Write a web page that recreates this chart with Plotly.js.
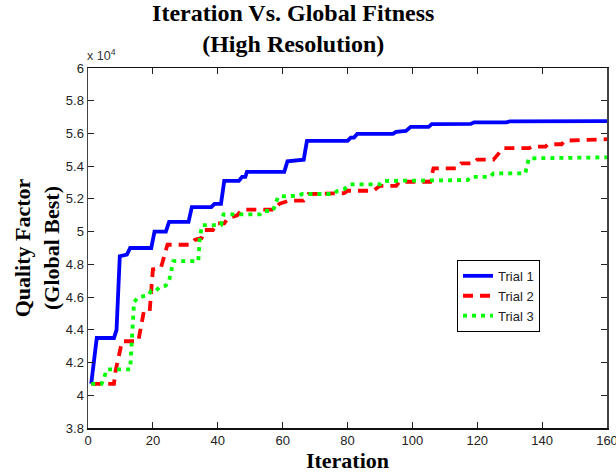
<!DOCTYPE html>
<html>
<head>
<meta charset="utf-8">
<script src="https://cdn.plot.ly/plotly-3.0.1.min.js"></script>
<style>html,body{margin:0;padding:0;background:#fff;}#chart{width:616px;height:473px;}</style>
</head>
<body>
<div id="chart"></div>
<script>
// Values are in units of 10^4 (as labelled on the chart)
const trial1X = [1,2.7,8,8.8,9.8,12,13,19.5,20.5,24,25,31,32,38,39,41,42,46.5,47.5,48.5,49,60.5,61.5,66.5,67.5,80,81,82,83,94,95,98,99.5,105,106,118,119,129,130,160];
const trial1Y = [4.07,4.35,4.35,4.40,4.85,4.86,4.90,4.90,5.00,5.00,5.06,5.06,5.15,5.15,5.17,5.17,5.31,5.31,5.335,5.335,5.365,5.365,5.43,5.44,5.555,5.555,5.575,5.575,5.597,5.597,5.61,5.615,5.64,5.64,5.657,5.658,5.668,5.668,5.674,5.675];

const trial2X = [1,8,8.5,9.5,10.5,15.5,16.5,17.2,19,20,22.5,24.5,31.5,33,35,36,38.5,39.7,42,43,46,47.5,57.5,59,62,66.5,68,79,80,88,90,95,96,105.5,106.5,113.8,115,119,120,125,128,136,137,141,142,146,147,160];
const trial2Y = [4.07,4.07,4.15,4.24,4.33,4.33,4.42,4.51,4.51,4.77,4.78,4.92,4.92,4.95,4.96,5.01,5.01,5.05,5.05,5.08,5.10,5.135,5.135,5.17,5.19,5.19,5.23,5.235,5.25,5.25,5.28,5.28,5.305,5.305,5.387,5.387,5.417,5.417,5.44,5.44,5.51,5.51,5.52,5.52,5.534,5.534,5.556,5.565];

const trial3X = [1,4.2,5,5.8,13,13.6,14.2,15.5,18.6,19.5,21,22,24,25,26.3,34,34.5,35.2,41,41.8,53,54,57,58.6,65,66,75.6,77,79,80.9,90,91,117,118,124,125,134.8,135.9,160];
const trial3Y = [4.07,4.07,4.11,4.158,4.158,4.40,4.57,4.60,4.61,4.64,4.64,4.66,4.67,4.70,4.82,4.82,4.97,5.04,5.04,5.106,5.106,5.126,5.126,5.214,5.22,5.23,5.23,5.25,5.26,5.289,5.289,5.31,5.315,5.335,5.335,5.356,5.356,5.448,5.454];

const seriesNames = ['Trial 1','Trial 2','Trial 3'];
const xTicks = [0,20,40,60,80,100,120,140,160];

const serif = '"Liberation Serif", "Times New Roman", serif';
const sans = '"Liberation Sans", Arial, sans-serif';

const traces = [
  {x: trial1X, y: trial1Y, name: seriesNames[0], mode: 'lines',
   line: {color: '#0000ff', width: 3.8}},
  {x: trial2X, y: trial2Y, name: seriesNames[1], mode: 'lines',
   line: {color: '#ff0000', width: 3.8, dash: '10px,7px'}},
  {x: trial3X, y: trial3Y, name: seriesNames[2], mode: 'lines',
   line: {color: '#00ff00', width: 3.8, dash: '4px,5px'}}
];

const layout = {
  width: 616, height: 473,
  margin: {l: 88, r: 9, t: 68, b: 45},
  paper_bgcolor: '#fff', plot_bgcolor: '#fff',
  title: {
    text: 'Iteration Vs. Global Fitness<br>(High Resolution)',
    font: {family: serif, size: 24, color: '#000', weight: 'bold'},
    xref: 'container', x: 0.476, xanchor: 'center',
    yref: 'container', y: 0.955, yanchor: 'top'
  },
  xaxis: {
    range: [0, 160], tickvals: xTicks, ticklabeloverflow: 'allow',
    ticks: 'inside', ticklen: 6, tickcolor: '#222', mirror: 'ticks',
    showline: true, linecolor: '#111', linewidth: 1.5,
    showgrid: false, zeroline: false,
    tickfont: {family: sans, size: 13, color: '#222'},
    title: {text: 'Iteration',
            font: {family: serif, size: 22, color: '#000', weight: 'bold'}}
  },
  yaxis: {
    range: [3.8, 6], dtick: 0.2, tick0: 3.8,
    ticks: 'inside', ticklen: 6, tickcolor: '#222', mirror: 'ticks',
    showline: true, linecolor: '#444', linewidth: 1.5,
    showgrid: false, zeroline: false,
    tickfont: {family: sans, size: 13, color: '#222'},
    title: {text: 'Quality Factor<br>(Global Best)',
            font: {family: serif, size: 22, color: '#000', weight: 'bold'}}
  },
  legend: {
    x: 0.711, y: 0.467, xanchor: 'left', yanchor: 'top',
    bgcolor: '#fff', bordercolor: '#000', borderwidth: 1,
    font: {family: sans, size: 13, color: '#222'}
  },
  annotations: [{
    text: 'x 10<sup>4</sup>', xref: 'paper', yref: 'paper',
    x: 0, y: 1, xanchor: 'left', yanchor: 'bottom', xshift: -3, yshift: 3,
    showarrow: false, font: {family: sans, size: 12.5, color: '#333'}
  }],
  showlegend: true
};

Plotly.newPlot('chart', traces, layout, {displayModeBar: false, staticPlot: true});
</script>
</body>
</html>
